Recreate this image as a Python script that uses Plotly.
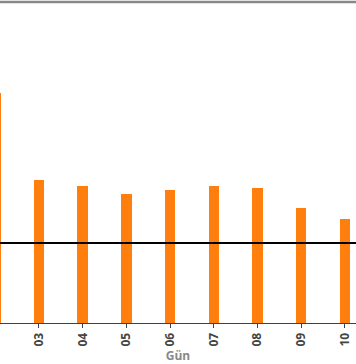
import plotly.graph_objects as go

days = ["02", "03", "04", "05", "06", "07", "08", "09", "10"]
values = [23.0, 14.3, 13.7, 12.9, 13.3, 13.7, 13.5, 11.5, 10.4]
reference_value = 8.0
x_title = "Gün"

fig = go.Figure()
fig.add_trace(go.Bar(
    x=days, y=values, width=0.24,
    marker=dict(color="#ff7f0e", line=dict(width=0)),
    showlegend=False,
))

fig.add_shape(type="line", xref="paper", yref="y", x0=0, x1=1,
              y0=reference_value, y1=reference_value,
              line=dict(color="black", width=2))
fig.add_shape(type="line", xref="paper", yref="paper", x0=0, x1=1,
              y0=1.0063, y1=1.0063, line=dict(color="#888888", width=2.5))

fig.update_layout(
    width=356, height=364,
    margin=dict(l=0, r=0, t=4, b=41),
    paper_bgcolor="white", plot_bgcolor="white",
    bargap=0,
    xaxis=dict(
        type="category", range=[0.108, 8.254],
        showgrid=False, zeroline=False,
        showline=True, linecolor="#334455", linewidth=1,
        ticks="outside", ticklen=4, tickcolor="#334455", tickwidth=1,
        tickangle=-90,
        tickfont=dict(family="Open Sans", size=12, color="#444444", weight="bold"),
        title=dict(text=x_title, font=dict(family="Open Sans", size=12, color="#888888", weight="bold"), standoff=4),
    ),
    yaxis=dict(
        range=[0, 31.9], showgrid=False, zeroline=False,
        showticklabels=False, showline=False, ticks="",
    ),
)

fig.write_html("out.html")
